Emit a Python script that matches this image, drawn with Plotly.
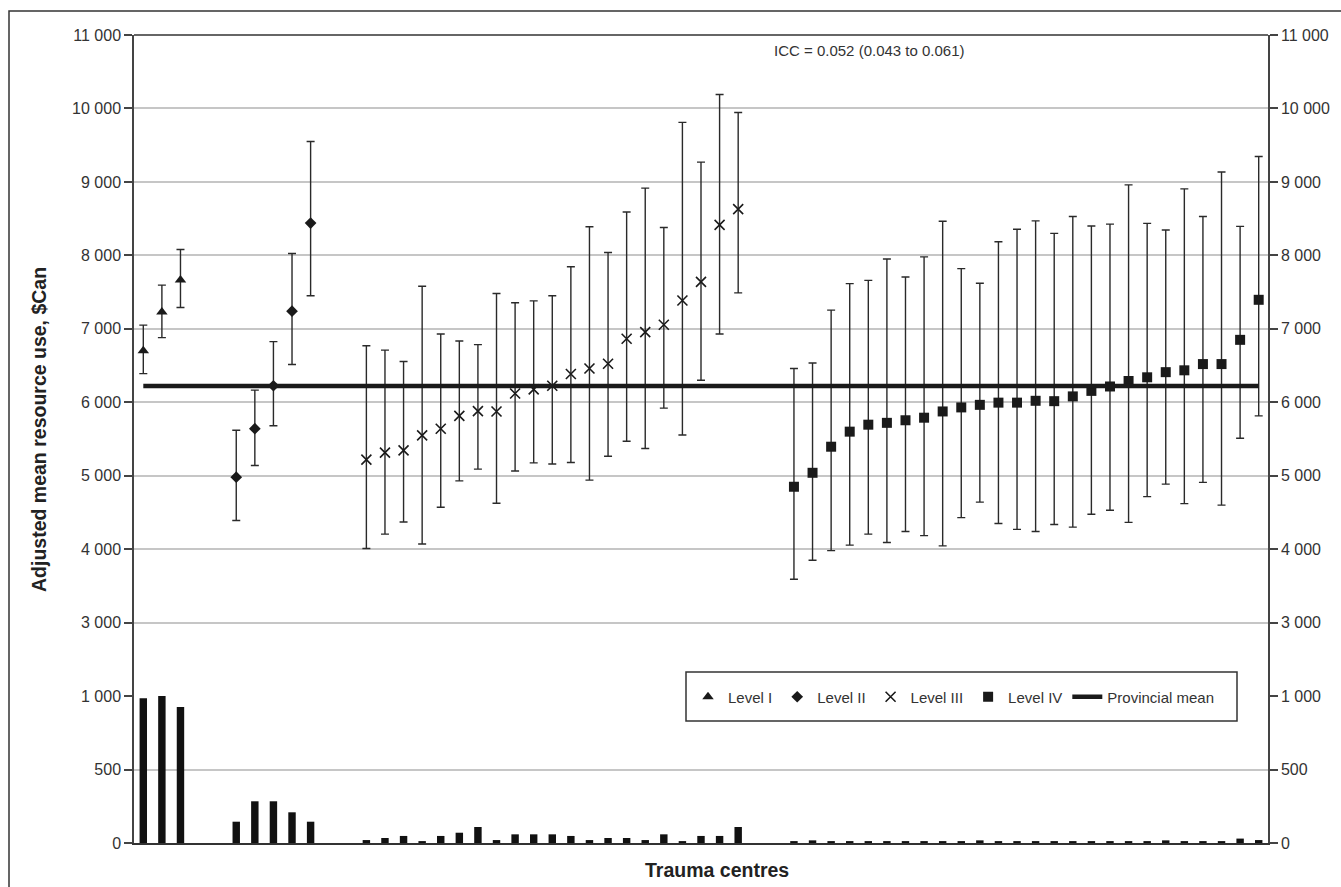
import plotly.graph_objects as go

# ---------------- data ----------------
level_names = ["Level I", "Level II", "Level III", "Level IV"]

l1_mean = [6700, 7230, 7665]
l1_lo = [6390, 6880, 7290]
l1_hi = [7050, 7595, 8080]
l1_n = [986, 1000, 925]

l2_mean = [4980, 5640, 6225, 7240, 8440]
l2_lo = [4390, 5140, 5680, 6515, 7450]
l2_hi = [5620, 6165, 6825, 8025, 9550]
l2_n = [145, 284, 284, 209, 145]

l3_mean = [5220, 5315, 5345, 5550, 5640, 5815, 5880, 5875, 6120, 6175, 6225,
           6385, 6460, 6525, 6865, 6955, 7055, 7385, 7640, 8415, 8630]
l3_lo = [4010, 4205, 4370, 4070, 4570, 4930, 5090, 4625, 5065, 5175, 5160,
         5180, 4940, 5265, 5470, 5370, 5920, 5555, 6300, 6930, 7490]
l3_hi = [6770, 6710, 6555, 7580, 6930, 6835, 6785, 7480, 7355, 7380, 7450,
         7845, 8390, 8040, 8590, 8915, 8380, 9810, 9270, 10190, 9945]
l3_n = [20, 34, 48, 11, 48, 70, 109, 20, 59, 59, 59, 48, 20, 34, 34, 20, 59,
        9, 48, 48, 109]

l4_mean = [4850, 5040, 5395, 5600, 5695, 5720, 5755, 5790, 5875, 5930, 5965,
           5995, 5995, 6020, 6015, 6080, 6155, 6215, 6290, 6340, 6410, 6435,
           6520, 6520, 6850, 7395]
l4_lo = [3590, 3850, 3980, 4055, 4205, 4090, 4240, 4185, 4045, 4430, 4640,
         4350, 4270, 4240, 4335, 4300, 4475, 4530, 4365, 4715, 4885, 4620,
         4910, 4600, 5510, 5815]
l4_hi = [6460, 6535, 7255, 7615, 7660, 7950, 7705, 7980, 8465, 7820, 7620,
         8185, 8355, 8470, 8300, 8530, 8400, 8425, 8960, 8435, 8345, 8905,
         8530, 9135, 8395, 9345]
l4_n = [9, 18, 9, 9, 9, 9, 9, 9, 9, 9, 18, 9, 9, 9, 9, 9, 9, 9, 9, 9, 18, 9,
        9, 9, 30, 20]

provincial_mean = 6220
icc_text = "ICC = 0.052 (0.043 to 0.061)"

upper_tickvals = [3000, 4000, 5000, 6000, 7000, 8000, 9000, 10000, 11000]
upper_ticktext = ["3 000", "4 000", "5 000", "6 000", "7 000", "8 000",
                  "9 000", "10 000", "11 000"]
lower_tickvals = [0, 500, 1000]
lower_ticktext = ["0", "500", "1 000"]

y_title = "Adjusted mean resource use, $Can"
x_title = "Trauma centres"

# ---------------- layout helpers ----------------
W, H = 1341, 887
L, R, T, B = 134, 73, 35, 44
PW, PH = W - L - R, H - T - B


def px(xp):
    return (xp - L) / PW


def py(yp):
    return (H - B - yp) / PH


FONT = "Liberation Sans, Arial, Helvetica, sans-serif"
INK = "#1a1a1a"
GAP = 2  # empty slots between trauma levels

groups = [
    (l1_mean, l1_lo, l1_hi, l1_n, "triangle-up", 10, None),
    (l2_mean, l2_lo, l2_hi, l2_n, "diamond", 9, None),
    (l3_mean, l3_lo, l3_hi, l3_n, "x-thin-open", 10, 1.6),
    (l4_mean, l4_lo, l4_hi, l4_n, "square", 10, None),
]

fig = go.Figure()

pos = 0
all_x, all_n = [], []
for name, (mean, lo, hi, n, sym, size, lw) in zip(level_names, groups):
    xs = list(range(pos, pos + len(mean)))
    pos += len(mean) + GAP
    all_x += xs
    all_n += n
    marker = dict(symbol=sym, size=size, color=INK)
    if lw:
        marker["line"] = dict(width=lw, color=INK)
    fig.add_trace(go.Scatter(
        x=xs, y=mean, mode="markers", name=name, marker=marker,
        xaxis="x", yaxis="y",
        error_y=dict(type="data", symmetric=False,
                     array=[h - m for h, m in zip(hi, mean)],
                     arrayminus=[m - l for m, l in zip(mean, lo)],
                     color="#2a2a2a", thickness=1.4, width=4),
    ))

# provincial mean drawn on the right-hand (mirrored) upper axis
fig.add_trace(go.Scatter(
    x=[min(all_x), max(all_x)], y=[provincial_mean, provincial_mean],
    mode="lines", name="Provincial mean",
    line=dict(color=INK, width=4.5), xaxis="x", yaxis="y3",
))

fig.add_trace(go.Bar(
    x=all_x, y=all_n, width=0.4, marker=dict(color="#111111", line=dict(width=0)),
    showlegend=False, xaxis="x", yaxis="y2", hoverinfo="skip",
))
# transparent copy so that the right-hand lower axis is rendered
fig.add_trace(go.Scatter(
    x=all_x, y=all_n, mode="markers", marker=dict(opacity=0, size=1),
    showlegend=False, hoverinfo="skip", xaxis="x", yaxis="y4",
))

split = 2 / 11
tickfont = dict(family=FONT, size=16, color="#333333")
common_y = dict(showline=True, linecolor="#444444", linewidth=1.5,
                ticks="outside", ticklen=8, tickcolor="#444444", tickwidth=1.5,
                zeroline=False, tickfont=tickfont, fixedrange=True)

fig.update_layout(
    width=W, height=H, autosize=False,
    margin=dict(l=L, r=R, t=T, b=B, pad=0),
    paper_bgcolor="white", plot_bgcolor="white",
    font=dict(family=FONT, size=15, color="#333333"),
    xaxis=dict(range=[-0.5, pos - GAP - 0.5], showticklabels=False, ticks="",
               showgrid=False, zeroline=False, showline=True,
               linecolor="#333333", linewidth=1.5, anchor="y2",
               fixedrange=True),
    yaxis=dict(domain=[split, 1], range=[2000, 11000], tickmode="array",
               tickvals=upper_tickvals, ticktext=upper_ticktext,
               showgrid=True, gridcolor="#c6c6c6", gridwidth=1.5,
               anchor="x", **common_y),
    yaxis2=dict(domain=[0, split], range=[0, 1000], tickmode="array",
                tickvals=lower_tickvals, ticktext=lower_ticktext,
                showgrid=True, gridcolor="#c6c6c6", gridwidth=1.5,
                anchor="x", **common_y),
    yaxis3=dict(overlaying="y", side="right", anchor="x", range=[2000, 11000],
                tickmode="array", tickvals=upper_tickvals,
                ticktext=upper_ticktext, showgrid=False, **common_y),
    yaxis4=dict(overlaying="y2", side="right", anchor="x", range=[0, 1000],
                tickmode="array", tickvals=lower_tickvals,
                ticktext=lower_ticktext, showgrid=False, **common_y),
    bargap=0.6,
    showlegend=True,
    legend=dict(orientation="h", x=px(688), y=py(697), xanchor="left",
                yanchor="middle", bgcolor="rgba(0,0,0,0)", borderwidth=0,
                font=dict(family=FONT, size=15, color="#333333"),
                itemwidth=30, traceorder="normal"),
    shapes=[
        # outer frame of the figure
        dict(type="rect", xref="paper", yref="paper",
             x0=px(9), x1=px(1360), y0=py(905), y1=py(11),
             line=dict(color="#333333", width=1.5), fillcolor="rgba(0,0,0,0)",
             layer="above"),
        # top border of the plotting area
        dict(type="line", xref="paper", yref="paper", x0=0, x1=1, y0=1, y1=1,
             line=dict(color="#333333", width=1.5), layer="above"),
        # legend box
        dict(type="rect", xref="paper", yref="paper",
             x0=px(686), x1=px(1237), y0=py(721), y1=py(672),
             line=dict(color="#333333", width=1.5), fillcolor="white",
             layer="above"),
    ],
    annotations=[
        dict(text=icc_text, xref="paper", yref="paper", x=px(869), y=py(50),
             xanchor="center", yanchor="middle", showarrow=False,
             font=dict(family=FONT, size=15, color="#333333")),
        dict(text="<b>" + y_title + "</b>", xref="paper", yref="paper",
             x=px(39), y=py(430), xanchor="center", yanchor="middle",
             textangle=-90, showarrow=False,
             font=dict(family=FONT, size=19.5, color="#222222")),
        dict(text="<b>" + x_title + "</b>", xref="paper", yref="paper",
             x=px(717), y=py(870), xanchor="center", yanchor="middle",
             showarrow=False,
             font=dict(family=FONT, size=19.5, color="#222222")),
    ],
)

fig.write_html("out.html", config={"displayModeBar": False},
               post_script="document.body.style.margin='0';")
